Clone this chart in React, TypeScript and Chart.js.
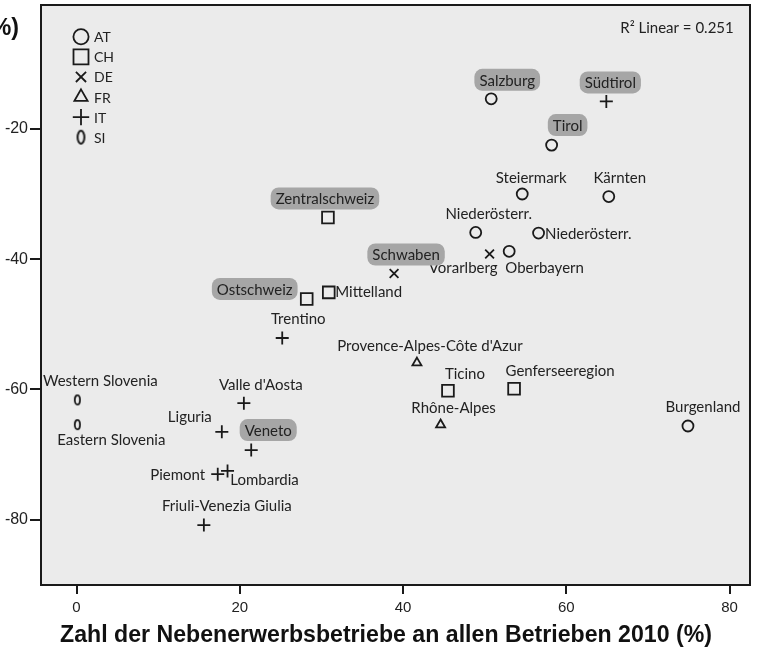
import React, { useEffect, useRef } from 'react';
import { Chart, registerables } from 'chart.js';
import { drawPoint } from 'chart.js/helpers';

Chart.register(...registerables);

// ---- axis ticks ----
const X_TICKS = [0, 20, 40, 60, 80];
const Y_TICKS = [-80, -60, -40, -20];

// ---- series (country groups) ----
const GROUPS = ['AT', 'CH', 'DE', 'FR', 'IT', 'SI'];

const AT_NAMES = ['Salzburg', 'Tirol', 'Steiermark', 'Kärnten', 'Niederösterr.', 'Niederösterr.', 'Vorarlberg', 'Burgenland'];
const AT_X = [50.8, 58.2, 54.6, 65.2, 48.9, 56.6, 53.0, 74.9];
const AT_Y = [-15.4, -22.5, -30.0, -30.4, -35.9, -36.0, -38.8, -65.6];

const CH_NAMES = ['Zentralschweiz', 'Ostschweiz', 'Mittelland', 'Ticino', 'Genferseeregion'];
const CH_X = [30.8, 28.2, 30.9, 45.5, 53.6];
const CH_Y = [-33.6, -46.1, -45.1, -60.2, -59.9];

const DE_NAMES = ['Schwaben', 'Oberbayern'];
const DE_X = [38.9, 50.6];
const DE_Y = [-42.2, -39.2];

const FR_NAMES = ["Provence-Alpes-Côte d'Azur", 'Rhône-Alpes'];
const FR_X = [41.7, 44.6];
const FR_Y = [-55.9, -65.4];

const IT_NAMES = ['Südtirol', 'Trentino', "Valle d'Aosta", 'Liguria', 'Veneto', 'Piemont', 'Lombardia', 'Friuli-Venezia Giulia'];
const IT_X = [64.9, 25.2, 20.5, 17.8, 21.4, 17.3, 18.5, 15.6];
const IT_Y = [-15.8, -52.1, -62.1, -66.5, -69.3, -73.0, -72.5, -80.8];

const SI_NAMES = ['Western Slovenia', 'Eastern Slovenia'];
const SI_X = [0.1, 0.1];
const SI_Y = [-61.6, -65.4];

const HIGHLIGHTED = ['Salzburg', 'Südtirol', 'Tirol', 'Zentralschweiz', 'Schwaben', 'Ostschweiz', 'Veneto'];

const R2_TEXT = 'R² Linear = 0.251';
const X_TITLE = 'Zahl der Nebenerwerbsbetriebe an allen Betrieben 2010 (%)';
const Y_TITLE_TAIL = '(%)';

// ---- label placement (pixel offsets from marker; layout only) ----
type LP = [number, number, CanvasTextAlign];
const AT_LABEL_POS: LP[] = [[16, -19, 'center'], [16, -20, 'center'], [9, -17, 'center'], [11, -19, 'center'], [13, -19, 'center'], [6.5, 0, 'left'], [-46, 16, 'center'], [15, -20, 'center']];
const CH_LABEL_POS: LP[] = [[-3, -19, 'center'], [-52, -10, 'center'], [6.5, -1, 'left'], [17, -18, 'center'], [46, -19, 'center']];
const DE_LABEL_POS: LP[] = [[12, -19, 'center'], [55, 13, 'center']];
const FR_LABEL_POS: LP[] = [[13, -18, 'center'], [13, -18, 'center']];
const IT_LABEL_POS: LP[] = [[4, -19, 'center'], [16, -20, 'center'], [17, -19, 'center'], [-32, -16, 'center'], [17, -20, 'center'], [-40, 0, 'center'], [37, 8, 'center'], [23, -20, 'center']];
const SI_LABEL_POS: LP[] = [[23, -20, 'center'], [34, 14, 'center']];

const INK = '#1a1a1a';
const LABEL_FONT = '15px Lato, "Open Sans", sans-serif';

function ellipseImage(rx: number, ry: number, lw: number): HTMLCanvasElement {
  const c = document.createElement('canvas');
  c.width = Math.ceil(rx * 2 + lw * 2 + 2);
  c.height = Math.ceil(ry * 2 + lw * 2 + 2);
  const g = c.getContext('2d')!;
  g.strokeStyle = INK;
  g.lineWidth = lw;
  g.beginPath();
  g.ellipse(c.width / 2, c.height / 2, rx, ry, 0, 0, Math.PI * 2);
  g.stroke();
  return c;
}

function mk(xs: number[], ys: number[], names: string[]) {
  return xs.map((x, i) => ({ x, y: ys[i], name: names[i] }));
}

export default function App() {
  const ref = useRef<HTMLCanvasElement | null>(null);

  useEffect(() => {
    document.body.style.margin = '0';
    const canvas = ref.current;
    if (!canvas) return;

    const siSmall = ellipseImage(2.6, 4.6, 1.8);
    const siBig = ellipseImage(3.4, 6.4, 2);

    const styles: any[] = ['circle', 'rect', 'crossRot', 'triangle', 'cross', siSmall];
    const radii = [5.5, 8.3, 6.2, 5.2, 6.5, 5];
    const legendStyles: any[] = ['circle', 'rect', 'crossRot', 'triangle', 'cross', siBig];
    const legendRadii = [7.6, 10.6, 7.2, 7.6, 8.2, 7];

    const groupData = [
      mk(AT_X, AT_Y, AT_NAMES),
      mk(CH_X, CH_Y, CH_NAMES),
      mk(DE_X, DE_Y, DE_NAMES),
      mk(FR_X, FR_Y, FR_NAMES),
      mk(IT_X, IT_Y, IT_NAMES),
      mk(SI_X, SI_Y, SI_NAMES),
    ];
    const labelPos = [AT_LABEL_POS, CH_LABEL_POS, DE_LABEL_POS, FR_LABEL_POS, IT_LABEL_POS, SI_LABEL_POS];

    const bgPlugin = {
      id: 'plotBg',
      beforeDraw(chart: any) {
        const { ctx, chartArea: a } = chart;
        ctx.save();
        ctx.fillStyle = '#ffffff';
        ctx.fillRect(0, 0, chart.width, chart.height);
        ctx.fillStyle = '#ebebeb';
        ctx.fillRect(a.left, a.top, a.right - a.left, a.bottom - a.top);
        ctx.restore();
      },
      afterDraw(chart: any) {
        const { ctx, chartArea: a } = chart;
        ctx.save();
        ctx.strokeStyle = INK;
        ctx.lineWidth = 2;
        ctx.strokeRect(a.left, a.top, a.right - a.left, a.bottom - a.top);
        ctx.restore();
      },
    };

    const labelPlugin = {
      id: 'pointLabels',
      afterDatasetsDraw(chart: any) {
        const { ctx } = chart;
        ctx.save();
        ctx.font = LABEL_FONT;
        ctx.textBaseline = 'middle';
        chart.data.datasets.forEach((ds: any, di: number) => {
          const meta = chart.getDatasetMeta(di);
          ds.data.forEach((p: any, pi: number) => {
            const el = meta.data[pi];
            const [dx, dy, align] = labelPos[di][pi];
            const tx = el.x + dx;
            const ty = el.y + dy;
            const w = ctx.measureText(p.name).width;
            if (HIGHLIGHTED.includes(p.name)) {
              let left = tx - w / 2;
              if (align === 'left') left = tx;
              if (align === 'right') left = tx - w;
              const bx = left - 5, by = ty - 11, bw = w + 10, bh = 22;
              ctx.fillStyle = '#a6a6a6';
              ctx.beginPath();
              (ctx as any).roundRect(bx, by, bw, bh, 8);
              ctx.fill();
            }
            ctx.fillStyle = '#222222';
            ctx.textAlign = align;
            ctx.fillText(p.name, tx, ty + 1);
          });
        });
        ctx.restore();
      },
    };

    const decoPlugin = {
      id: 'deco',
      afterDraw(chart: any) {
        const { ctx } = chart;
        ctx.save();
        // legend
        ctx.font = '14px Lato, "Open Sans", sans-serif';
        ctx.textBaseline = 'middle';
        ctx.textAlign = 'left';
        GROUPS.forEach((g, i) => {
          const y = 36.7 + i * 20.1;
          ctx.strokeStyle = INK;
          ctx.fillStyle = 'rgba(0,0,0,0)';
          ctx.lineWidth = 1.8;
          drawPoint(ctx, { pointStyle: legendStyles[i], radius: legendRadii[i], rotation: 0, borderWidth: 1.8 } as any, 81, y);
          ctx.fillStyle = '#222222';
          ctx.fillText(g, 94, y + 1);
        });
        // R² annotation
        ctx.font = LABEL_FONT;
        ctx.textAlign = 'center';
        ctx.fillStyle = '#222222';
        ctx.fillText(R2_TEXT, 677, 28);
        // axis titles (condensed bold)
        ctx.font = 'bold 24px "Liberation Sans", Arial, sans-serif';
        ctx.fillStyle = '#111111';
        const tw = ctx.measureText(X_TITLE).width;
        const sx = 652 / tw;
        ctx.save();
        ctx.translate(386, 635);
        ctx.scale(sx, 1);
        ctx.textAlign = 'center';
        ctx.fillText(X_TITLE, 0, 0);
        ctx.restore();
        ctx.save();
        ctx.translate(19, 28);
        ctx.scale(sx, 1);
        ctx.textAlign = 'right';
        ctx.fillText(Y_TITLE_TAIL, 0, 0);
        ctx.restore();
        ctx.restore();
      },
    };

    const chart = new Chart(canvas, {
      type: 'scatter',
      data: {
        datasets: GROUPS.map((g, i) => ({
          label: g,
          data: groupData[i] as any,
          pointStyle: styles[i],
          pointRadius: radii[i],
          pointHoverRadius: radii[i],
          pointBorderWidth: 1.8,
          borderColor: INK,
          backgroundColor: 'rgba(0,0,0,0)',
          showLine: false,
        })),
      },
      options: {
        animation: false,
        responsive: false,
        devicePixelRatio: 1,
        layout: { autoPadding: false, padding: { left: 0, top: 5, right: 7, bottom: 0 } },
        plugins: { legend: { display: false }, tooltip: { enabled: false } },
        scales: {
          x: {
            type: 'linear',
            min: -4.35,
            max: 82.5,
            afterBuildTicks: (s: any) => { s.ticks = X_TICKS.map((v) => ({ value: v })); },
            afterFit: (s: any) => { s.height = 71; s.paddingLeft = 0; s.paddingRight = 0; s.paddingTop = 0; s.paddingBottom = 0; },
            border: { display: false },
            grid: { drawOnChartArea: false, drawTicks: true, tickLength: 9, color: INK, lineWidth: 2 },
            ticks: {
              color: '#222222',
              padding: 5,
              maxRotation: 0,
              font: { family: '"Liberation Sans", Arial, sans-serif', size: 15 },
            },
          },
          y: {
            type: 'linear',
            min: -90,
            max: -1,
            afterBuildTicks: (s: any) => { s.ticks = Y_TICKS.map((v) => ({ value: v })); },
            afterFit: (s: any) => { s.width = 41; s.paddingLeft = 0; s.paddingRight = 0; s.paddingTop = 0; s.paddingBottom = 0; },
            border: { display: false },
            grid: { drawOnChartArea: false, drawTicks: true, tickLength: 11, color: INK, lineWidth: 2 },
            ticks: {
              color: '#222222',
              padding: 2,
              font: { family: '"Liberation Sans", Arial, sans-serif', size: 16 },
            },
          },
        },
      },
      plugins: [bgPlugin, labelPlugin, decoPlugin],
    });

    return () => chart.destroy();
  }, []);

  return (
    <div style={{ width: 757, height: 656 }}>
      <canvas ref={ref} width={757} height={656} style={{ display: 'block', width: 757, height: 656 }} />
    </div>
  );
}
